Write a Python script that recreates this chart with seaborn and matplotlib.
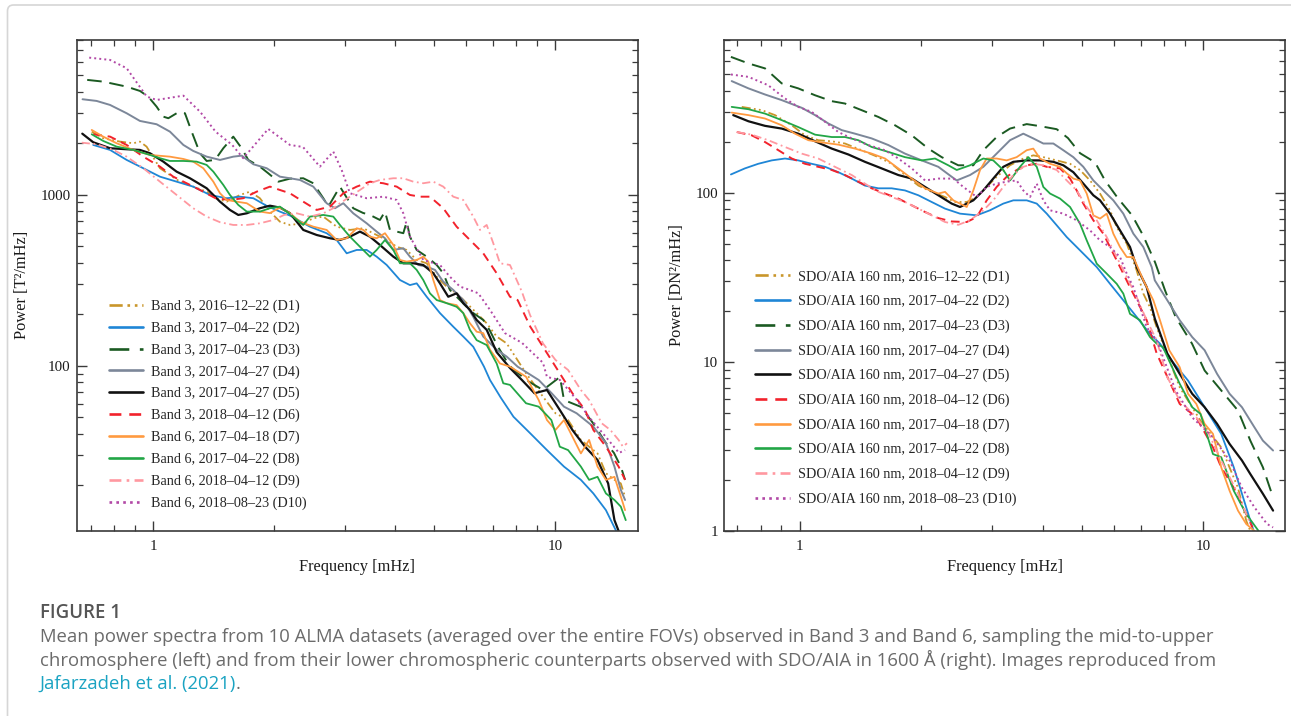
import numpy as np
import matplotlib
matplotlib.use("Agg")
import matplotlib.pyplot as plt
import seaborn as sns
from matplotlib.lines import Line2D
from matplotlib.patches import FancyBboxPatch
from matplotlib.ticker import FixedLocator, FixedFormatter, LogLocator, NullFormatter

# ---------------- ALMA mean power spectra (frequency [mHz], power [T^2/mHz]) ----------------
alma_d1 = [(0.704, 2336), (0.752, 2137), (0.828, 2042), (0.893, 1998), (0.928, 2042), (0.964, 1909),
           (1.041, 1427), (1.102, 1304), (1.167, 1191), (1.259, 1114), (1.360, 1041), (1.431, 953),
           (1.525, 910), (1.646, 996), (1.743, 1041), (1.845, 953), (1.954, 796), (2.069, 695),
           (2.191, 665), (2.365, 680), (2.505, 728), (2.653, 744), (2.864, 650), (3.090, 622),
           (3.336, 636), (3.601, 581), (3.814, 543), (4.039, 496), (4.277, 475), (4.529, 415),
           (4.796, 397), (5.079, 331), (5.377, 290), (5.693, 265), (6.030, 232), (6.386, 203),
           (6.763, 177), (7.161, 148), (7.584, 135), (8.472, 90.3), (9.336, 65.9), (10.03, 52.7),
           (10.78, 48.1), (11.60, 36.8), (12.16, 33.6), (12.76, 30.7), (13.39, 23.5), (14.06, 21.5),
           (14.58, 20.5), (14.94, 17.1)]
alma_d2 = [(0.710, 1953), (0.782, 1826), (0.860, 1596), (0.946, 1427), (1.041, 1274), (1.145, 1191),
           (1.259, 1114), (1.386, 996), (1.525, 953), (1.646, 973), (1.777, 953), (1.918, 860),
           (2.069, 796), (2.191, 755), (2.457, 650), (2.704, 595), (2.864, 543), (3.033, 454),
           (3.212, 475), (3.401, 475), (3.601, 434), (3.814, 388), (4.115, 317), (4.357, 296),
           (4.529, 303), (4.796, 253), (5.175, 203), (5.585, 169), (5.914, 148), (6.263, 129),
           (6.660, 98.7), (6.892, 82.5), (7.332, 65.0), (7.884, 50.3), (8.682, 40.2), (9.552, 32.1),
           (10.53, 25.7), (11.60, 21.5), (12.46, 17.9), (13.39, 14.3), (13.89, 12.0), (14.20, 10.8)]
alma_d3 = [(0.686, 4688), (0.752, 4580), (0.860, 4281), (0.928, 4040), (0.973, 3743), (1.021, 3270),
           (1.061, 2858), (1.092, 2798), (1.156, 3033), (1.201, 2992), (1.248, 2336), (1.309, 1746),
           (1.360, 1574), (1.427, 1596), (1.496, 1868), (1.584, 2184), (1.662, 1868), (1.726, 1596),
           (1.845, 1458), (1.935, 1334), (2.050, 1191), (2.191, 1240), (2.365, 1247), (2.505, 1166),
           (2.653, 953), (2.730, 851), (2.918, 1114), (3.149, 833), (3.330, 782), (3.465, 761),
           (3.669, 711), (3.777, 796), (3.886, 622), (4.195, 595), (4.277, 695), (4.357, 568),
           (4.529, 475), (4.796, 434), (5.079, 388), (5.274, 347), (5.480, 277), (5.693, 253),
           (6.030, 221), (6.263, 203), (6.632, 185), (6.892, 160), (7.200, 130), (7.700, 100),
           (8.472, 82.5), (9.336, 72.1), (10.29, 85.9), (10.53, 63.0), (11.61, 57.4), (12.43, 46.2),
           (13.39, 35.3), (14.02, 30.9), (14.59, 25.6), (14.94, 21.5)]
alma_d4 = [(0.668, 3613), (0.724, 3532), (0.782, 3346), (0.860, 2992), (0.928, 2698), (1.021, 2580),
           (1.102, 2336), (1.190, 1953), (1.259, 1802), (1.360, 1668), (1.468, 1596), (1.584, 1668),
           (1.662, 1691), (1.777, 1506), (1.918, 1427), (2.069, 1274), (2.191, 1247), (2.321, 1219),
           (2.505, 1114), (2.704, 891), (2.836, 833), (2.975, 891), (3.149, 778), (3.401, 680),
           (3.601, 608), (3.777, 556), (3.962, 475), (4.195, 486), (4.357, 434), (4.571, 388),
           (4.796, 379), (5.030, 363), (5.274, 310), (5.585, 277), (5.914, 242), (6.263, 193),
           (6.632, 148), (7.161, 124), (7.584, 113), (8.074, 98.7), (9.108, 82.5), (9.795, 69.3),
           (10.53, 57.6), (11.32, 52.7), (12.46, 44.0), (13.39, 35.3), (14.06, 25.7), (14.58, 18.8),
           (14.94, 16.4)]
alma_d5 = [(0.667, 2273), (0.710, 2025), (0.782, 1868), (0.860, 1843), (0.928, 1826), (0.983, 1746),
           (1.061, 1560), (1.145, 1363), (1.236, 1247), (1.360, 1090), (1.468, 910), (1.554, 814),
           (1.630, 761), (1.711, 778), (1.845, 833), (1.954, 862), (2.069, 840), (2.191, 780),
           (2.365, 622), (2.554, 581), (2.756, 556), (2.918, 543), (3.090, 568), (3.272, 608),
           (3.465, 568), (3.669, 508), (3.962, 434), (4.195, 397), (4.442, 397), (4.703, 388),
           (4.981, 347), (5.175, 303), (5.427, 253), (5.693, 265), (5.914, 232), (6.145, 212),
           (6.386, 185), (6.763, 162), (7.161, 120), (7.729, 96.9), (8.273, 82.5), (8.892, 69.0),
           (9.552, 72.1), (10.28, 55.1), (11.05, 42.1), (11.88, 33.6), (12.76, 28.1), (13.56, 20.5),
           (14.06, 12.5), (14.40, 10.8)]
alma_d6 = [(0.710, 2255), (0.782, 2184), (0.860, 1953), (0.946, 1668), (1.041, 1458), (1.123, 1274),
           (1.213, 1166), (1.309, 1065), (1.431, 953), (1.554, 931), (1.677, 953), (1.811, 1041),
           (1.954, 1114), (2.069, 1065), (2.191, 1019), (2.365, 910), (2.554, 814), (2.756, 851),
           (2.975, 1019), (3.212, 1114), (3.465, 1191), (3.740, 1166), (4.039, 1114), (4.357, 996),
           (4.614, 973), (4.886, 973), (5.274, 833), (5.693, 650), (6.145, 543), (6.632, 454),
           (7.161, 347), (7.729, 253), (8.074, 242), (8.682, 169), (9.336, 129), (9.795, 108),
           (10.53, 82.5), (11.05, 69.0), (11.88, 55.1), (12.46, 42.1), (13.39, 33.6), (14.40, 25.7),
           (14.94, 21.5)]
alma_d7 = [(0.704, 2390), (0.752, 2184), (0.812, 1998), (0.893, 1826), (0.983, 1707), (1.102, 1668),
           (1.190, 1617), (1.259, 1560), (1.334, 1427), (1.413, 1191), (1.468, 1019), (1.525, 931),
           (1.615, 910), (1.711, 891), (1.845, 796), (1.954, 780), (2.069, 840), (2.191, 780),
           (2.321, 695), (2.505, 650), (2.704, 622), (2.864, 543), (3.033, 556), (3.212, 636),
           (3.336, 622), (3.465, 568), (3.601, 556), (3.777, 595), (3.962, 508), (4.115, 415),
           (4.277, 406), (4.529, 415), (4.703, 434), (4.840, 406), (4.981, 317), (5.175, 242),
           (5.377, 232), (5.693, 226), (5.914, 203), (6.145, 177), (6.386, 158), (6.632, 155),
           (6.892, 124), (7.298, 103), (7.729, 98.7), (8.472, 86.2), (9.108, 63.0), (9.552, 48.1),
           (10.03, 42.1), (10.53, 48.1), (11.05, 38.5), (11.60, 30.7), (12.16, 36.8), (12.76, 25.7),
           (13.39, 21.5), (14.06, 22.4), (14.76, 15.7), (14.94, 14.3)]
alma_d8 = [(0.704, 2255), (0.752, 2061), (0.812, 1909), (0.893, 1826), (0.983, 1707), (1.041, 1633),
           (1.102, 1574), (1.190, 1574), (1.284, 1560), (1.360, 1492), (1.413, 1363), (1.496, 1140),
           (1.554, 996), (1.630, 871), (1.711, 796), (1.845, 796), (1.954, 833), (2.069, 851),
           (2.191, 770), (2.365, 665), (2.457, 744), (2.653, 761), (2.809, 744), (2.918, 665),
           (3.090, 568), (3.272, 496), (3.465, 434), (3.601, 475), (3.777, 543), (3.962, 475),
           (4.115, 397), (4.357, 397), (4.529, 363), (4.703, 317), (4.886, 265), (5.079, 242),
           (5.377, 232), (5.693, 221), (5.914, 203), (6.145, 162), (6.386, 141), (6.763, 132),
           (7.161, 103), (7.437, 78.9), (7.729, 77.2), (8.472, 60.3), (9.108, 57.6), (9.795, 48.1),
           (10.28, 33.6), (10.78, 32.1), (11.60, 25.7), (12.16, 21.5), (12.76, 22.4), (13.39, 17.9),
           (14.06, 16.4), (14.58, 15.0), (15.00, 12.5)]
alma_d9 = [(0.665, 2014), (0.724, 1971), (0.797, 1826), (0.860, 1668), (0.946, 1427), (1.041, 1191),
           (1.145, 996), (1.259, 833), (1.360, 744), (1.468, 690), (1.584, 665), (1.711, 665),
           (1.845, 680), (1.992, 711), (2.120, 761), (2.278, 778), (2.457, 744), (2.653, 778),
           (2.809, 833), (2.918, 891), (3.090, 973), (3.272, 1065), (3.465, 1166), (3.669, 1219),
           (3.962, 1247), (4.195, 1247), (4.442, 1191), (4.703, 1166), (4.981, 1191), (5.274, 1114),
           (5.585, 973), (5.914, 931), (6.263, 744), (6.508, 622), (6.763, 665), (7.023, 520),
           (7.298, 397), (7.729, 388), (8.277, 270), (8.667, 198), (9.336, 135), (10.03, 108),
           (10.78, 94.4), (11.60, 72.1), (12.16, 63.0), (13.08, 46.0), (13.73, 42.1), (14.40, 36.8),
           (14.76, 33.6), (15.11, 35.2)]
alma_d10 = [(0.694, 6326), (0.782, 6133), (0.860, 5486), (0.965, 3743), (1.021, 3579), (1.190, 3793),
            (1.309, 3058), (1.431, 2336), (1.574, 1953), (1.677, 1633), (1.935, 2423), (2.191, 1953),
            (2.361, 1900), (2.602, 1458), (2.809, 1784), (2.947, 1394), (3.090, 1019), (3.401, 953),
            (3.740, 973), (4.039, 931), (4.195, 778), (4.357, 568), (4.703, 415), (5.175, 388),
            (5.480, 331), (5.803, 290), (6.145, 277), (6.446, 265), (6.892, 212), (7.509, 155),
            (8.277, 136), (9.336, 104), (9.552, 85.9), (10.29, 82.5), (11.34, 63.0), (12.15, 50.1),
            (13.39, 38.3), (14.43, 30.9), (14.94, 32.1)]

# ---------------- SDO/AIA 1600 counterparts (frequency [mHz], power [DN^2/mHz]) ----------------
aia_d1 = [(0.718, 321), (0.805, 307), (0.868, 287), (0.955, 250), (1.030, 218), (1.111, 204),
          (1.200, 201), (1.294, 195), (1.423, 178), (1.565, 162), (1.689, 148), (1.822, 127),
          (1.967, 110), (2.122, 101), (2.290, 94.2), (2.424, 88.0), (2.592, 88.0), (2.744, 94.2),
          (2.905, 108), (3.074, 124), (3.318, 145), (3.579, 159), (3.789, 166), (4.012, 162),
          (4.330, 155), (4.673, 148), (4.946, 136), (5.236, 118), (5.544, 98.7), (5.870, 78.6),
          (6.098, 62.6), (6.457, 49.9), (6.834, 34.7), (7.098, 25.3), (7.373, 21.0), (7.660, 16.0),
          (8.736, 7.07), (9.836, 4.49), (11.07, 3.12), (12.18, 1.80), (12.77, 1.15), (13.07, 1.00)]
aia_d2 = [(0.675, 128), (0.731, 139), (0.789, 148), (0.852, 155), (0.919, 159), (0.991, 155),
          (1.070, 148), (1.155, 142), (1.246, 132), (1.345, 121), (1.450, 110), (1.565, 106),
          (1.689, 106), (1.822, 103), (1.967, 96.4), (2.122, 88.0), (2.290, 80.4), (2.494, 75.1),
          (2.744, 73.4), (2.959, 78.6), (3.193, 86.1), (3.381, 90.0), (3.649, 90.0), (3.864, 86.1),
          (4.091, 75.1), (4.330, 64.1), (4.585, 54.6), (4.853, 47.7), (5.139, 41.6), (5.441, 36.3),
          (5.870, 28.9), (6.332, 23.1), (6.834, 18.4), (7.373, 14.6), (7.806, 12.8), (8.333, 10.2),
          (9.159, 7.75), (10.07, 5.39), (11.07, 3.75), (11.89, 2.38), (12.46, 1.66), (13.07, 1.15),
          (13.32, 1.00)]
aia_d3 = [(0.675, 634), (0.746, 580), (0.820, 542), (0.902, 442), (0.991, 413), (1.091, 376),
          (1.200, 347), (1.294, 336), (1.423, 307), (1.565, 280), (1.721, 250), (1.894, 218),
          (2.082, 182), (2.247, 162), (2.470, 145), (2.691, 145), (2.849, 178), (3.074, 213),
          (3.318, 239), (3.649, 254), (3.937, 247), (4.330, 237), (4.618, 210), (4.946, 171),
          (5.388, 151), (5.704, 118), (6.143, 92.5), (6.656, 73.4), (7.087, 55.9), (7.590, 38.7),
          (8.035, 26.4), (8.534, 18.4), (9.372, 12.8), (10.07, 8.88), (11.07, 6.77), (12.18, 5.15),
          (13.07, 3.42), (14.04, 2.38), (14.88, 1.58)]
aia_d4 = [(0.678, 456), (0.746, 413), (0.820, 380), (0.902, 352), (1.011, 317), (1.091, 287),
          (1.177, 256), (1.270, 234), (1.370, 223), (1.507, 209), (1.657, 191), (1.822, 170),
          (2.005, 155), (2.204, 142), (2.379, 124), (2.448, 118), (2.641, 127), (2.849, 142),
          (3.074, 170), (3.318, 204), (3.579, 223), (3.789, 209), (4.012, 195), (4.248, 195),
          (4.497, 178), (4.761, 162), (5.040, 142), (5.337, 118), (5.649, 103), (5.981, 90.0),
          (6.332, 75.1), (6.705, 57.2), (7.098, 47.7), (7.446, 36.3), (7.578, 30.3), (8.138, 23.1),
          (8.736, 17.6), (9.381, 14.0), (10.07, 11.7), (10.81, 8.49), (11.61, 6.47), (12.46, 5.39),
          (13.38, 4.10), (14.04, 3.42), (14.88, 2.99)]
aia_d5 = [(0.684, 287), (0.746, 264), (0.820, 248), (0.902, 239), (0.991, 223), (1.091, 201),
          (1.200, 182), (1.319, 168), (1.450, 152), (1.595, 139), (1.754, 127), (1.894, 121),
          (2.043, 108), (2.204, 96.4), (2.379, 86.1), (2.494, 82.2), (2.691, 90.0), (2.849, 103),
          (3.015, 121), (3.193, 142), (3.381, 152), (3.649, 155), (3.937, 155), (4.248, 152),
          (4.497, 145), (4.761, 132), (5.040, 113), (5.337, 96.4), (5.544, 90.0), (5.870, 75.1),
          (6.214, 59.8), (6.578, 47.7), (6.834, 36.3), (7.237, 27.6), (7.578, 18.0), (8.138, 11.2),
          (8.736, 8.49), (9.381, 6.47), (10.07, 5.39), (10.81, 4.30), (11.61, 3.27), (12.46, 2.61),
          (13.07, 2.17), (14.04, 1.66), (14.88, 1.32)]
aia_d6 = [(0.698, 228), (0.760, 218), (0.820, 199), (0.885, 178), (0.955, 159), (1.030, 148),
          (1.111, 142), (1.200, 136), (1.294, 127), (1.396, 116), (1.507, 106), (1.626, 98.7),
          (1.754, 92.2), (1.894, 84.1), (2.043, 76.8), (2.204, 70.7), (2.379, 67.5), (2.592, 67.0),
          (2.744, 71.7), (2.905, 90.0), (3.074, 108), (3.255, 124), (3.446, 136), (3.649, 145),
          (3.864, 148), (4.091, 142), (4.412, 139), (4.673, 121), (4.853, 103), (5.040, 86.1),
          (5.337, 68.6), (5.649, 57.2), (5.981, 43.6), (6.332, 33.2), (6.578, 27.6), (6.834, 23.1),
          (7.237, 17.6), (7.660, 11.2), (8.736, 5.64), (9.603, 4.70), (10.56, 3.12), (11.07, 2.38),
          (11.89, 1.80), (12.77, 1.26), (13.23, 1.05)]
aia_d7 = [(0.678, 297), (0.746, 287), (0.820, 274), (0.902, 250), (0.973, 223), (1.050, 204),
          (1.133, 198), (1.246, 192), (1.370, 182), (1.507, 170), (1.626, 159), (1.754, 139),
          (1.894, 121), (2.043, 106), (2.204, 98.7), (2.290, 101), (2.401, 90.0), (2.494, 86.1),
          (2.592, 82.2), (2.691, 103), (2.796, 136), (2.905, 159), (3.074, 159), (3.255, 155),
          (3.446, 162), (3.649, 178), (3.789, 182), (3.937, 159), (4.169, 148), (4.412, 142),
          (4.585, 130), (4.761, 121), (4.946, 118), (5.139, 98.7), (5.337, 73.4), (5.544, 70.2),
          (5.760, 75.1), (5.981, 57.2), (6.214, 47.7), (6.457, 41.6), (6.705, 41.6), (7.098, 30.3),
          (7.515, 23.1), (7.806, 17.6), (8.230, 11.7), (8.736, 9.29), (9.159, 6.47), (9.603, 5.64),
          (10.07, 4.30), (10.56, 3.75), (11.07, 2.38), (11.61, 1.73), (12.18, 1.32), (12.77, 1.10),
          (13.38, 1.00)]
aia_d8 = [(0.678, 321), (0.746, 311), (0.820, 293), (0.902, 268), (0.991, 244), (1.091, 220),
          (1.200, 213), (1.294, 213), (1.396, 204), (1.507, 186), (1.657, 174), (1.822, 162),
          (2.005, 155), (2.163, 159), (2.333, 145), (2.448, 136), (2.641, 145), (2.849, 159),
          (3.015, 155), (3.193, 136), (3.318, 118), (3.512, 142), (3.683, 162), (3.864, 142),
          (4.012, 108), (4.169, 98.7), (4.412, 92.2), (4.673, 82.2), (4.946, 65.5), (5.139, 52.2),
          (5.441, 38.0), (5.760, 33.2), (6.098, 28.9), (6.332, 25.3), (6.578, 19.2), (6.965, 17.6),
          (7.373, 14.0), (7.660, 12.8), (7.940, 12.2), (8.736, 7.41), (9.381, 5.39), (9.836, 4.92),
          (10.56, 2.85), (11.07, 2.73), (11.89, 1.73), (12.77, 1.26), (13.70, 1.00)]
aia_d9 = [(0.698, 228), (0.760, 220), (0.835, 204), (0.919, 186), (1.011, 170), (1.111, 159),
          (1.222, 142), (1.345, 127), (1.450, 113), (1.565, 101), (1.689, 94.2), (1.822, 88.0),
          (1.967, 80.4), (2.122, 73.4), (2.290, 67.0), (2.470, 64.5), (2.641, 68.6), (2.849, 78.6),
          (3.015, 90.0), (3.193, 108), (3.381, 127), (3.579, 142), (3.789, 148), (4.012, 145),
          (4.330, 136), (4.585, 118), (4.853, 103), (5.139, 82.2), (5.441, 68.6), (5.760, 54.6),
          (6.098, 41.6), (6.457, 31.7), (6.834, 24.1), (7.237, 17.6), (7.660, 13.4), (8.138, 8.11),
          (8.736, 5.90), (9.603, 4.70), (10.31, 3.75), (11.07, 2.61), (12.18, 1.66), (13.07, 1.10)]
aia_d10 = [(0.675, 499), (0.746, 483), (0.835, 431), (0.919, 360), (0.991, 321), (1.070, 300),
           (1.155, 262), (1.246, 228), (1.345, 209), (1.478, 191), (1.626, 178), (1.754, 159),
           (1.894, 139), (2.043, 118), (2.204, 121), (2.401, 121), (2.542, 108), (2.744, 94.2),
           (2.905, 108), (3.074, 113), (3.255, 116), (3.446, 118), (3.579, 103), (3.719, 94.2),
           (3.864, 113), (4.012, 90.0), (4.169, 78.6), (4.497, 75.1), (4.853, 68.6), (5.236, 59.8),
           (5.544, 52.2), (5.870, 47.7), (6.214, 41.6), (6.457, 33.2), (6.705, 27.6), (6.965, 21.0),
           (7.237, 16.0), (7.660, 13.4), (8.534, 6.77), (9.372, 4.70), (10.56, 3.58), (11.61, 2.61),
           (12.46, 1.80), (13.38, 1.38), (14.38, 1.10), (14.88, 1.05)]

dates = ["2016–12–22 (D1)", "2017–04–22 (D2)", "2017–04–23 (D3)", "2017–04–27 (D4)",
         "2017–04–27 (D5)", "2018–04–12 (D6)", "2017–04–18 (D7)", "2017–04–22 (D8)",
         "2018–04–12 (D9)", "2018–08–23 (D10)"]
bands = ["Band 3", "Band 3", "Band 3", "Band 3", "Band 3", "Band 3",
         "Band 6", "Band 6", "Band 6", "Band 6"]
alma_labels = [f"{b}, {d}" for b, d in zip(bands, dates)]
aia_labels = [f"SDO/AIA 160 nm, {d}" for d in dates]

alma_series = [alma_d1, alma_d2, alma_d3, alma_d4, alma_d5, alma_d6, alma_d7, alma_d8, alma_d9, alma_d10]
aia_series = [aia_d1, aia_d2, aia_d3, aia_d4, aia_d5, aia_d6, aia_d7, aia_d8, aia_d9, aia_d10]

# ---------------- line styles ----------------
colors = ["#C9962A", "#1F86D6", "#1B5A22", "#7C8799", "#111111",
          "#F2222C", "#FF9A40", "#22A646", "#FF98A0", "#B248A6"]
styles = [(0, (5, 1.8, 1, 1.8, 1, 1.8, 1, 1.8)), "-", (0, (7.5, 4)), "-", "-",
          (0, (4.5, 3)), "-", "-", (0, (4.5, 2, 1, 2)), (0, (1, 1.6))]
widths = [1.3, 1.3, 1.4, 1.4, 1.6, 1.4, 1.3, 1.3, 1.3, 1.4]

sns.set_style("ticks")
plt.rcParams["font.family"] = ["Liberation Serif", "DejaVu Serif"]
plt.rcParams["axes.linewidth"] = 1.2

W, H = 1291, 716
fig = plt.figure(figsize=(W / 100, H / 100), dpi=100)
fig.patch.set_facecolor("white")

# card outline
card = FancyBboxPatch((0.075, -0.3), 14.0, 7.16 - 0.05 + 0.3,
                      boxstyle="round,pad=0,rounding_size=0.06",
                      transform=fig.dpi_scale_trans, facecolor="none",
                      edgecolor="#D6D6D6", linewidth=1.2)
fig.add_artist(card)


def px_rect(l, t, r, b):
    return [l / W, 1 - b / H, (r - l) / W, (b - t) / H]


ax1 = fig.add_axes(px_rect(76.7, 39.7, 638, 531))
ax2 = fig.add_axes(px_rect(724.3, 39.7, 1284.8, 531))

panels = [
    (ax1, alma_series, alma_labels, (0.646, 16.09), (10.8, 8054), [100, 1000],
     "Power [T²/mHz]", -0.084, (0.0568, 0.471), 0.59),
    (ax2, aia_series, aia_labels, (0.650, 15.91), (1.0, 801), [1, 10, 100],
     "Power [DN²/mHz]", -0.070, (0.0555, 0.531), 0.79),
]

for ax, series, labels, xlim, ylim, yticks, ylabel, ylab_x, leg_anchor, lspace in panels:
    ax.set_xscale("log")
    ax.set_yscale("log")
    for pts, c, ls, lw in zip(series, colors, styles, widths):
        f = [p[0] for p in pts]
        pw = [p[1] for p in pts]
        sns.lineplot(x=f, y=pw, ax=ax, color=c, linestyle=ls, linewidth=lw,
                     estimator=None, sort=False, legend=False)
    ax.set_xlim(*xlim)
    ax.set_ylim(*ylim)

    ax.xaxis.set_major_locator(FixedLocator([1, 10]))
    ax.xaxis.set_major_formatter(FixedFormatter(["1", "10"]))
    ax.xaxis.set_minor_locator(LogLocator(base=10, subs=np.arange(2, 10)))
    ax.xaxis.set_minor_formatter(NullFormatter())
    ax.yaxis.set_major_locator(FixedLocator(yticks))
    ax.yaxis.set_major_formatter(FixedFormatter([str(v) for v in yticks]))
    ax.yaxis.set_minor_locator(LogLocator(base=10, subs=np.arange(2, 10)))
    ax.yaxis.set_minor_formatter(NullFormatter())

    ax.tick_params(which="both", direction="in", top=True, right=True,
                   color="#3a3a3a", labelcolor="#1a1a1a")
    ax.tick_params(which="major", length=7.5, width=1.0, labelsize=10.8)
    ax.tick_params(which="minor", length=4.0, width=0.9)
    ax.tick_params(axis="x", which="major", pad=6.5)
    ax.tick_params(axis="y", which="major", pad=4.5)
    for sp in ax.spines.values():
        sp.set_color("#3a3a3a")
        sp.set_linewidth(1.2)

    ax.set_xlabel("Frequency [mHz]", fontsize=11.8, color="#1a1a1a")
    ax.set_ylabel(ylabel, fontsize=11.8, color="#1a1a1a")
    ax.xaxis.set_label_coords(0.5, -0.056)
    ax.yaxis.set_label_coords(ylab_x, 0.5)

    handles = [Line2D([], [], color=c, linestyle=ls, linewidth=1.9)
               for c, ls in zip(colors, styles)]
    ax.legend(handles, labels, loc="upper left", bbox_to_anchor=leg_anchor,
              frameon=False, fontsize=10.2, handlelength=2.45, handletextpad=0.55,
              labelspacing=lspace, borderpad=0, borderaxespad=0)

# ---------------- caption ----------------
cap_gray = "#6b6b6b"
cap_x = 39.5 / W
fig_title = fig.text(cap_x, 1 - 613 / H, "FIGURE 1", family="Open Sans", weight="semibold",
                     color="#555555", fontsize=12, va="center", ha="left")
line1 = fig.text(cap_x, 1 - 637 / H,
                 "Mean power spectra from 10 ALMA datasets (averaged over the entire FOVs) observed in "
                 "Band 3 and Band 6, sampling the mid-to-upper",
                 family="Open Sans", color=cap_gray, fontsize=12, va="center", ha="left")
line2 = fig.text(cap_x, 1 - 660 / H,
                 "chromosphere (left) and from their lower chromospheric counterparts observed with "
                 "SDO/AIA in 1600 Å (right). Images reproduced from",
                 family="Open Sans", color=cap_gray, fontsize=12, va="center", ha="left")
line3a = fig.text(cap_x, 1 - 684 / H, "Jafarzadeh et al. (2021)", family="Open Sans",
                  color="#1AA3C2", fontsize=12, va="center", ha="left")

fig.canvas.draw()
renderer = fig.canvas.get_renderer()
scale = (1210 - 39.5) / line1.get_window_extent(renderer).width
for t in (line1, line2, line3a):
    t.set_fontsize(12 * scale)
scale_t = 81 / fig_title.get_window_extent(renderer).width
fig_title.set_fontsize(12 * scale_t)
fig.canvas.draw()
bb = line3a.get_window_extent(renderer)
fig.text(bb.x1 / W, 1 - 684 / H, ".", family="Open Sans", color=cap_gray,
         fontsize=12 * scale, va="center", ha="left")

fig.savefig("out.png", dpi=100, facecolor="white")
